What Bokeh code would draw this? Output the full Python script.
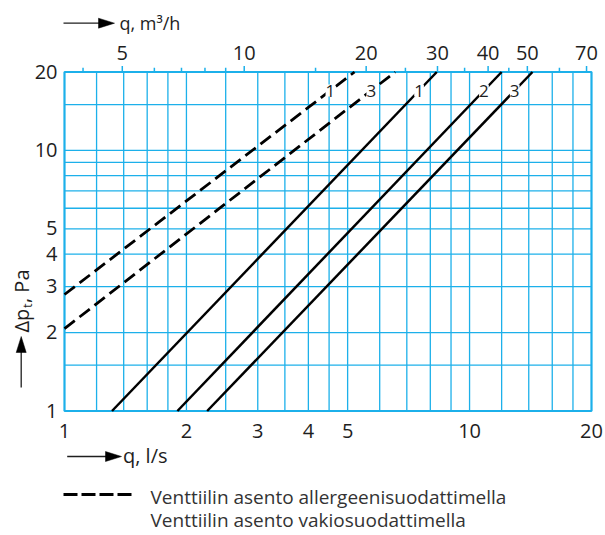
import numpy as np
from bokeh.plotting import figure
from bokeh.models import Range1d
from bokeh.embed import file_html
from bokeh.resources import INLINE
from bokeh.core.properties import value

# ---------------- data ----------------
q_ticks = [1, 2, 3, 4, 5, 10, 20]            # l/s (bottom scale)
dp_ticks = [1, 2, 3, 4, 5, 10, 20]           # Pa (left scale)
m3h_ticks = [5, 10, 20, 30, 40, 50, 70]      # m3/h (top scale)
m3h_minor = [4, 6, 7, 8, 9, 15, 25, 35, 45, 60]
q_grid = [1.2, 1.4, 1.6, 1.8, 2, 2.5, 3, 3.5, 4, 4.5, 5, 6, 7, 8, 9, 10, 12, 14, 16, 18]
dp_grid = [1.5, 2, 3, 4, 5, 6, 7, 8, 9, 10, 15]

dash1_q = [1.0, 5.2]
dash1_dp = [2.8, 20.0]
dash3_q = [1.0, 6.55]
dash3_dp = [2.07, 20.0]
sol1_q = [1.31, 8.3]
sol1_dp = [1.0, 20.0]
sol2_q = [1.9, 12.0]
sol2_dp = [1.0, 20.0]
sol3_q = [2.25, 14.3]
sol3_dp = [1.0, 20.0]
curve_labels = ["1", "3", "1", "2", "3"]

legend_texts = ["Venttiilin asento allergeenisuodattimella",
                "Venttiilin asento vakiosuodattimella"]
M3H_PER_LS = 3.6

# ---------------- layout / style ----------------
FONT = "Open Sans"
CYAN = "#1cb0ea"
TXT = "#1e1e1e"
LTXT = "#333333"
W, H = 605, 535
FX0, FX1 = 64.0, 591.0      # page px of q = 1 and q = 20
FY1, FY0 = 71.5, 410.5      # page px of dp = 20 and dp = 1
QMIN, QMAX = q_ticks[0], q_ticks[-1]
PMIN, PMAX = dp_ticks[0], dp_ticks[-1]
PXX = (FX1 - FX0) / np.log10(QMAX / QMIN)
PXY = (FY0 - FY1) / np.log10(PMAX / PMIN)


def xq(px):
    return QMIN * 10 ** ((px - FX0) / PXX)


def ydp(py):
    return PMIN * 10 ** ((FY0 - py) / PXY)


def shift_y(v, dpx):  # move a data y value down by dpx screen pixels
    return v * 10 ** (-dpx / PXY)


p = figure(width=W, height=H, x_axis_type="log", y_axis_type="log",
           x_range=Range1d(xq(0), xq(W)), y_range=Range1d(ydp(H), ydp(0)),
           x_axis_location=None, y_axis_location=None, title=None,
           min_border=0, toolbar_location=None, output_backend="svg")
p.grid.visible = False
p.outline_line_color = None
p.background_fill_color = "white"
p.border_fill_color = "white"

# ---------------- grid and frame ----------------
n = len(q_grid)
p.segment(x0=q_grid, y0=[PMIN] * n, x1=q_grid, y1=[PMAX] * n, line_color=CYAN, line_width=1.3)
m = len(dp_grid)
p.segment(x0=[QMIN] * m, y0=dp_grid, x1=[QMAX] * m, y1=dp_grid, line_color=CYAN, line_width=1.3)
p.quad(left=[QMIN], right=[QMAX], bottom=[PMIN], top=[PMAX], fill_color=None,
       line_color=CYAN, line_width=2.2)

# top scale ticks (m3/h)
top_major_q = [v / M3H_PER_LS for v in m3h_ticks]
top_minor_q = [v / M3H_PER_LS for v in m3h_minor]
p.segment(x0=top_major_q, y0=[PMAX] * len(top_major_q), x1=top_major_q,
          y1=[shift_y(PMAX, -6)] * len(top_major_q), line_color=CYAN, line_width=1.5)
p.segment(x0=top_minor_q, y0=[PMAX] * len(top_minor_q), x1=top_minor_q,
          y1=[shift_y(PMAX, -4.3)] * len(top_minor_q), line_color=CYAN, line_width=1.5)

# ---------------- tick labels ----------------
p.text(x=q_ticks, y=[ydp(430)] * len(q_ticks), text=[str(v) for v in q_ticks],
       text_align="center", text_baseline="middle", text_font=value(FONT),
       text_font_size="20px", text_color=TXT)
p.text(x=[xq(57)] * len(dp_ticks), y=[shift_y(v, -0.5) for v in dp_ticks],
       text=[str(v) for v in dp_ticks], text_align="right", text_baseline="middle",
       text_font=value(FONT), text_font_size="20px", text_color=TXT)
p.text(x=top_major_q, y=[ydp(52)] * len(top_major_q), text=[str(v) for v in m3h_ticks],
       text_align="center", text_baseline="middle", text_font=value(FONT),
       text_font_size="20px", text_color=TXT)

# ---------------- curves ----------------
curves = [(dash1_q, dash1_dp, True), (dash3_q, dash3_dp, True),
          (sol1_q, sol1_dp, False), (sol2_q, sol2_dp, False), (sol3_q, sol3_dp, False)]
for q, dp, dashed in curves:
    if dashed:
        p.line(q, dp, line_color="black", line_width=2.8, line_dash="13 6")
    else:
        p.line(q, dp, line_color="black", line_width=2.5)

LAB_DP = ydp(90)
lab_q = [10 ** np.interp(np.log10(LAB_DP), np.log10(dp), np.log10(q)) for q, dp, _ in curves]
p.text(x=lab_q, y=[LAB_DP] * len(lab_q), text=curve_labels, text_align="center",
       text_baseline="middle", text_font=value(FONT), text_font_size="17px", text_color=TXT,
       background_fill_color="white")


# ---------------- axis titles with arrows ----------------
def arrow_h(x0, x1, y, head=16, half=5):
    p.line([xq(x0), xq(x1 - head + 2)], [ydp(y), ydp(y)], line_color=TXT, line_width=1.3)
    p.patch([xq(x1 - head), xq(x1), xq(x1 - head)], [ydp(y - half), ydp(y), ydp(y + half)],
            fill_color="black", line_color="black", line_width=0.5)


def arrow_v(x, y0, y1, head=16, half=5):
    p.line([xq(x), xq(x)], [ydp(y0), ydp(y1 + head - 2)], line_color=TXT, line_width=1.3)
    p.patch([xq(x - half), xq(x), xq(x + half)], [ydp(y1 + head), ydp(y1), ydp(y1 + head)],
            fill_color="black", line_color="black", line_width=0.5)


def txt(x, y, s, size, color=TXT, angle=0.0, align="left"):
    p.text(x=[xq(x)], y=[ydp(y)], text=[s], text_align=align, text_baseline="middle",
           text_font=value(FONT), text_font_size=size, text_color=color, angle=angle)


arrow_h(63, 114, 22.7)
txt(119, 22, "q, m³/h", "18px")
arrow_h(66.7, 121, 456)
txt(122.5, 455, "q, l/s", "20px")
arrow_v(20.7, 387, 336)
txt(21, 332, "Δp", "20px", angle=np.pi / 2)
txt(26, 307.5, "t", "13px", angle=np.pi / 2)
txt(21, 302.5, ", Pa", "20px", angle=np.pi / 2)

# ---------------- legend ----------------
LEG1, LEG2 = 496, 519
p.line([xq(63), xq(132)], [ydp(LEG1 - 2), ydp(LEG1 - 2)], line_color="black", line_width=3,
       line_dash="14 4")
txt(150, LEG1, legend_texts[0], "19px", color=LTXT)
txt(150, LEG2, legend_texts[1], "19px", color=LTXT)

open("out.html", "w").write(file_html(p, INLINE))
